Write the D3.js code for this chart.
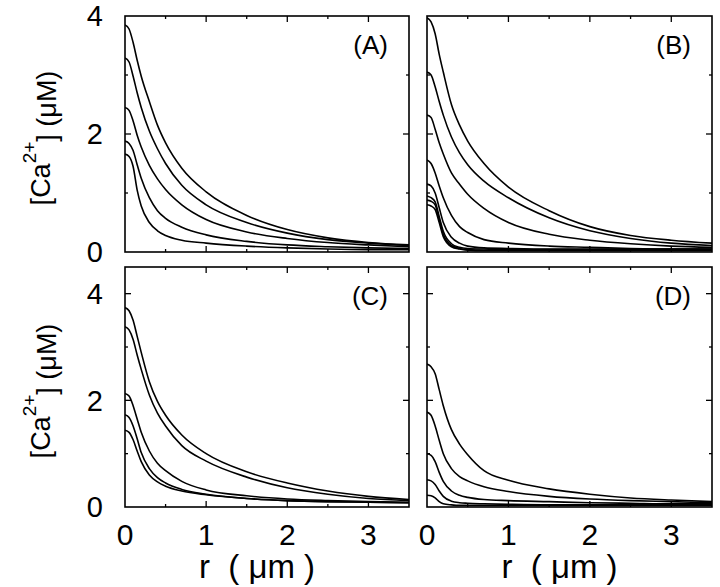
<!DOCTYPE html>
<html>
<head>
<meta charset="utf-8">
<script src="https://cdn.jsdelivr.net/npm/d3@7"></script>
<style>
  body { margin: 0; background: #fff; }
  svg { display: block; }
  text { font-family: "Liberation Sans", Arial, Helvetica, sans-serif; fill: #000; }
  .frame { fill: none; stroke: #000; stroke-width: 1.6; }
  .tick { stroke: #000; stroke-width: 1.3; }
  .curve { fill: none; stroke: #000; stroke-width: 1.6; }
</style>
</head>
<body>
<svg id="graphic-svg" width="720" height="587"></svg>
<script>
var svg = d3.select("#graphic-svg");

// Data: radius grid (um) and [Ca2+] profiles (uM)
var rGrid = [0, 0.05, 0.1, 0.15, 0.2, 0.3, 0.4, 0.5, 0.7, 1.0, 1.5, 2.0, 2.5, 3.0, 3.5];

var caA = [
  [3.85, 3.78, 3.55, 3.25, 2.98, 2.55, 2.15, 1.85, 1.42, 1.02, 0.62, 0.38, 0.24, 0.16, 0.12],
  [3.29, 3.22, 2.98, 2.70, 2.45, 2.05, 1.75, 1.50, 1.13, 0.80, 0.50, 0.32, 0.21, 0.15, 0.11],
  [2.45, 2.40, 2.22, 1.98, 1.78, 1.47, 1.24, 1.06, 0.80, 0.55, 0.34, 0.23, 0.16, 0.12, 0.09],
  [1.88, 1.84, 1.72, 1.48, 1.25, 0.92, 0.70, 0.57, 0.42, 0.29, 0.18, 0.12, 0.09, 0.07, 0.06],
  [1.66, 1.62, 1.45, 1.05, 0.78, 0.50, 0.36, 0.28, 0.20, 0.15, 0.10, 0.07, 0.05, 0.04, 0.04]
];

var caB = [
  [3.97, 3.90, 3.70, 3.35, 3.05, 2.50, 2.15, 1.88, 1.50, 1.10, 0.70, 0.43, 0.28, 0.20, 0.15],
  [3.05, 3.00, 2.80, 2.55, 2.32, 1.95, 1.68, 1.48, 1.20, 0.92, 0.58, 0.36, 0.23, 0.15, 0.11],
  [2.32, 2.28, 2.08, 1.85, 1.66, 1.34, 1.15, 0.98, 0.74, 0.50, 0.30, 0.20, 0.14, 0.10, 0.08],
  [1.56, 1.50, 1.34, 1.12, 0.92, 0.62, 0.43, 0.33, 0.21, 0.15, 0.10, 0.08, 0.06, 0.05, 0.05],
  [1.15, 1.12, 1.00, 0.75, 0.50, 0.25, 0.15, 0.10, 0.07, 0.06, 0.05, 0.05, 0.05, 0.05, 0.05],
  [0.95, 0.92, 0.85, 0.60, 0.35, 0.14, 0.08, 0.06, 0.05, 0.04, 0.04, 0.04, 0.04, 0.04, 0.04],
  [0.88, 0.86, 0.80, 0.55, 0.30, 0.11, 0.06, 0.04, 0.03, 0.03, 0.03, 0.03, 0.03, 0.03, 0.03],
  [0.80, 0.78, 0.72, 0.50, 0.26, 0.09, 0.05, 0.03, 0.02, 0.02, 0.02, 0.02, 0.02, 0.02, 0.02]
];

var caC = [
  [3.74, 3.68, 3.50, 3.20, 2.90, 2.35, 1.98, 1.72, 1.35, 1.00, 0.66, 0.45, 0.30, 0.20, 0.14],
  [3.38, 3.32, 3.14, 2.85, 2.58, 2.10, 1.76, 1.52, 1.15, 0.86, 0.56, 0.36, 0.24, 0.16, 0.12],
  [2.13, 2.08, 1.90, 1.65, 1.40, 1.05, 0.82, 0.68, 0.48, 0.32, 0.21, 0.15, 0.12, 0.10, 0.09],
  [1.73, 1.68, 1.52, 1.28, 1.02, 0.72, 0.55, 0.45, 0.33, 0.24, 0.16, 0.12, 0.10, 0.09, 0.08],
  [1.44, 1.40, 1.26, 1.05, 0.85, 0.60, 0.47, 0.39, 0.30, 0.23, 0.16, 0.12, 0.10, 0.09, 0.08]
];

var caD = [
  [2.68, 2.63, 2.50, 2.20, 1.90, 1.45, 1.18, 0.98, 0.68, 0.50, 0.34, 0.24, 0.17, 0.13, 0.10],
  [1.78, 1.72, 1.52, 1.25, 1.00, 0.72, 0.57, 0.49, 0.38, 0.29, 0.20, 0.15, 0.12, 0.10, 0.08],
  [1.00, 0.97, 0.85, 0.65, 0.48, 0.30, 0.22, 0.18, 0.14, 0.12, 0.10, 0.08, 0.07, 0.06, 0.06],
  [0.51, 0.49, 0.42, 0.30, 0.20, 0.11, 0.08, 0.07, 0.06, 0.05, 0.04, 0.04, 0.04, 0.04, 0.04],
  [0.22, 0.21, 0.17, 0.10, 0.06, 0.04, 0.03, 0.03, 0.03, 0.03, 0.03, 0.03, 0.03, 0.03, 0.03]
];

var xTickLabels = ["0", "1", "2", "3"];
var yTickLabels = ["0", "2", "4"];

// Panel layout
var panels = [
  { name: "(A)", data: caA, x0: 125, x1: 409, y0: 16,  y1: 252, yMax: 4,   yLab: true,  xLab: false },
  { name: "(B)", data: caB, x0: 427, x1: 712, y0: 16,  y1: 252, yMax: 4,   yLab: false, xLab: false },
  { name: "(C)", data: caC, x0: 125, x1: 409, y0: 267, y1: 507, yMax: 4.5, yLab: true,  xLab: true },
  { name: "(D)", data: caD, x0: 427, x1: 712, y0: 267, y1: 507, yMax: 4.5, yLab: false, xLab: true }
];

panels.forEach(function(p) {
  var xScale = d3.scaleLinear().domain([0, 3.5]).range([p.x0, p.x1]);
  var yScale = d3.scaleLinear().domain([0, p.yMax]).range([p.y1, p.y0]);
  var g = svg.append("g");

  var clipId = "clip" + p.name.replace(/\W/g, "");
  svg.append("clipPath").attr("id", clipId)
     .append("rect")
     .attr("x", p.x0).attr("y", p.y0)
     .attr("width", p.x1 - p.x0).attr("height", p.y1 - p.y0);

  // curves
  var line = d3.line()
               .x(function(d, i) { return xScale(rGrid[i]); })
               .y(function(d) { return yScale(d); })
               .curve(d3.curveMonotoneX);
  g.append("g")
   .attr("clip-path", "url(#" + clipId + ")")
   .selectAll("path")
   .data(p.data)
   .enter()
   .append("path")
   .attr("class", "curve")
   .attr("d", line);

  // ticks on all four sides, pointing inward
  var xt = d3.range(0.5, 3.5, 0.5);
  xt.forEach(function(v) {
    var len = (v % 1 === 0) ? 6 : 3;
    g.append("line").attr("class", "tick")
     .attr("x1", xScale(v)).attr("x2", xScale(v))
     .attr("y1", p.y1).attr("y2", p.y1 - len);
    g.append("line").attr("class", "tick")
     .attr("x1", xScale(v)).attr("x2", xScale(v))
     .attr("y1", p.y0).attr("y2", p.y0 + len);
  });
  var yt = d3.range(1, Math.floor(p.yMax) + 1, 1).filter(function(v) { return v < p.yMax; });
  yt.forEach(function(v) {
    var len = (v % 2 === 0) ? 6 : 3;
    g.append("line").attr("class", "tick")
     .attr("x1", p.x0).attr("x2", p.x0 + len)
     .attr("y1", yScale(v)).attr("y2", yScale(v));
    g.append("line").attr("class", "tick")
     .attr("x1", p.x1).attr("x2", p.x1 - len)
     .attr("y1", yScale(v)).attr("y2", yScale(v));
  });

  // frame
  g.append("rect").attr("class", "frame")
   .attr("x", p.x0).attr("y", p.y0)
   .attr("width", p.x1 - p.x0).attr("height", p.y1 - p.y0);

  // panel label
  g.append("text")
   .text(p.name)
   .attr("x", p.x1 - 21)
   .attr("y", p.y0 + 38)
   .style("font-size", "26px")
   .style("text-anchor", "end");

  if (p.yLab) {
    g.selectAll(".ylab")
     .data(yTickLabels)
     .enter()
     .append("text")
     .attr("class", "ylab")
     .text(function(d) { return d; })
     .attr("x", p.x0 - 22)
     .attr("y", function(d) { return yScale(+d); })
     .attr("dy", "0.36em")
     .style("font-size", "29px")
     .style("text-anchor", "end");

    var yl = g.append("text")
              .attr("transform", "translate(" + 50 + "," + ((p.y0 + p.y1) / 2 + 4) + ") rotate(-90)")
              .style("font-size", "27px")
              .style("text-anchor", "middle");
    yl.append("tspan").text("[Ca");
    yl.append("tspan").text("2+").attr("dy", "-0.75em").style("font-size", "19px");
    yl.append("tspan").text("] (\u03bcM)").attr("dy", "0.75em");
  }

  if (p.xLab) {
    g.selectAll(".xlab")
     .data(xTickLabels)
     .enter()
     .append("text")
     .attr("class", "xlab")
     .text(function(d) { return d; })
     .attr("x", function(d) { return xScale(+d); })
     .attr("y", 545)
     .style("font-size", "30px")
     .style("text-anchor", "middle");

    g.append("text")
     .text("r  ( \u03bcm )")
     .attr("x", (p.x0 + p.x1) / 2 - 10)
     .attr("y", 578)
     .style("font-size", "33px")
     .style("white-space", "pre")
     .style("text-anchor", "middle");
  }
});
</script>
</body>
</html>
